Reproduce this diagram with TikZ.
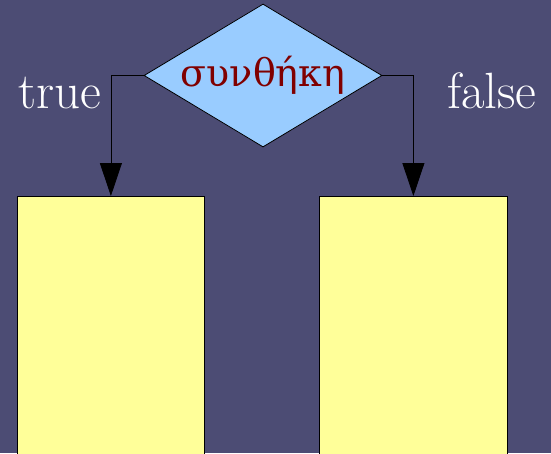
\documentclass[tikz,border=0pt]{standalone}
\usepackage{fontspec}
\newfontfamily\tnr{DejaVu Serif}
\usetikzlibrary{shapes.geometric,arrows.meta}
\definecolor{bg}{HTML}{4C4C74}
\definecolor{dfill}{HTML}{99CCFF}
\definecolor{bfill}{HTML}{FFFF99}
\definecolor{dred}{HTML}{800000}
\tikzset{
  cond/.style={diamond,draw=black,fill=dfill,line width=0.8pt,aspect=1.66,
    minimum width=238pt,minimum height=143pt,inner sep=0pt,
    text=dred,font=\tnr\fontsize{38}{38}\selectfont},
  block/.style={rectangle,draw=black,fill=bfill,line width=0.8pt,anchor=north west,inner sep=0pt},
  lbl/.style={text=white,font=\fontsize{51}{51}\selectfont,inner sep=0pt,anchor=base west},
  conn/.style={draw=black,line width=0.8pt,-{Triangle[width=22pt,length=33pt]}}
}
\begin{document}
\begin{tikzpicture}[x=1pt,y=-1pt]
\useasboundingbox (0,0) rectangle (551,453);
\fill[bg] (0,0) rectangle (551,453);
\clip (0,0) rectangle (551,453);
\node[cond] (d) at (263,75.5) {συνθήκη};
\node[block,minimum width=187pt,minimum height=290pt] (lb) at (17,196) {};
\node[block,minimum width=188pt,minimum height=290pt] (rb) at (319,196) {};
\node[lbl] (t) at (18,108) {true};
\node[lbl] (f) at (447,108) {false};
\draw[conn] (d.west) -| (lb.north);
\draw[conn] (d.east) -| (rb.north);
\end{tikzpicture}
\end{document}
